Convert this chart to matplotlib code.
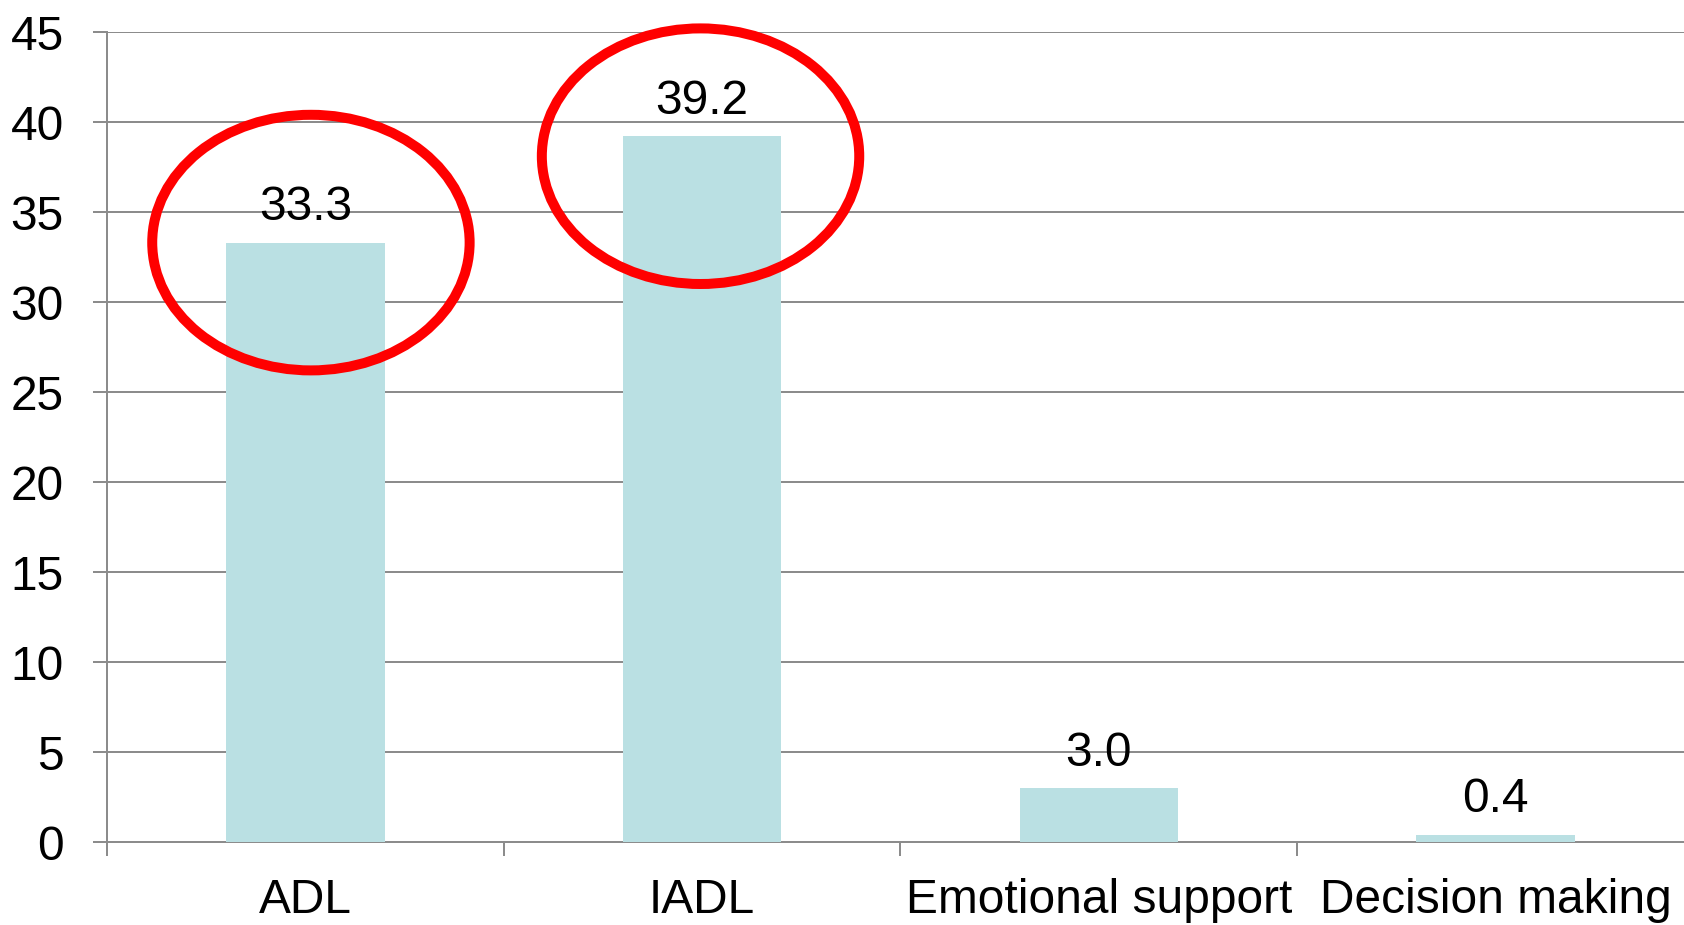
import matplotlib
matplotlib.use("Agg")
import matplotlib.pyplot as plt
from matplotlib.patches import Ellipse
import numpy as np

categories = ["ADL", "IADL", "Emotional support", "Decision making"]
values = [33.3, 39.2, 3.0, 0.4]
value_labels = ["33.3", "39.2", "3.0", "0.4"]
yticks = [0, 5, 10, 15, 20, 25, 30, 35, 40, 45]
highlighted = [0, 1]

plt.rcParams['font.family'] = ['Liberation Sans', 'DejaVu Sans']

W, H = 1684, 925
fig = plt.figure(figsize=(W / 100, H / 100), dpi=100)
left_px, right_px, bottom_px, top_px = 107, 1694, 842, 32
ax = fig.add_axes([left_px / W, (H - bottom_px) / H,
                   (right_px - left_px) / W, (bottom_px - top_px) / H])

grid_col = "#8c8c8c"
bar_col = "#bae0e3"
fs = 34.5
x = np.arange(len(categories))
ax.bar(x, values, width=0.4, color=bar_col, zorder=3)

ax.set_xlim(-0.5, len(categories) - 0.5)
ax.set_ylim(0, 45)
ax.set_yticks(yticks)
ax.set_yticklabels([str(t) for t in yticks])
ax.yaxis.grid(True, color=grid_col, linewidth=1.44, zorder=0)
ax.set_axisbelow(True)

ax.set_xticks(x)
ax.set_xticklabels(categories)
ax.set_xticks(np.arange(len(categories) + 1) - 0.5, minor=True)
ax.tick_params(axis='x', which='major', length=0, pad=26, labelsize=fs)
ax.tick_params(axis='x', which='minor', length=10, width=1.44, color=grid_col)
ax.tick_params(axis='y', length=10, width=1.44, color=grid_col, pad=21, labelsize=fs)

for s in ['top', 'right']:
    ax.spines[s].set_visible(False)
for s in ['left', 'bottom']:
    ax.spines[s].set_color(grid_col)
    ax.spines[s].set_linewidth(1.44)

for xi, v, lab in zip(x, values, value_labels):
    ax.annotate(lab, (xi, v), xytext=(0, 9), textcoords='offset points',
                ha='center', va='bottom', fontsize=fs, zorder=5)

ell_centers = [(0.014, 33.3), (0.996, 38.1)]
for i, (cx, cy) in zip(highlighted, ell_centers):
    e = Ellipse((cx, cy), width=0.80, height=14.2, fill=False,
                edgecolor='#ff0000', linewidth=7.2, zorder=6, clip_on=False)
    ax.add_patch(e)

fig.savefig("out.png", dpi=100)
